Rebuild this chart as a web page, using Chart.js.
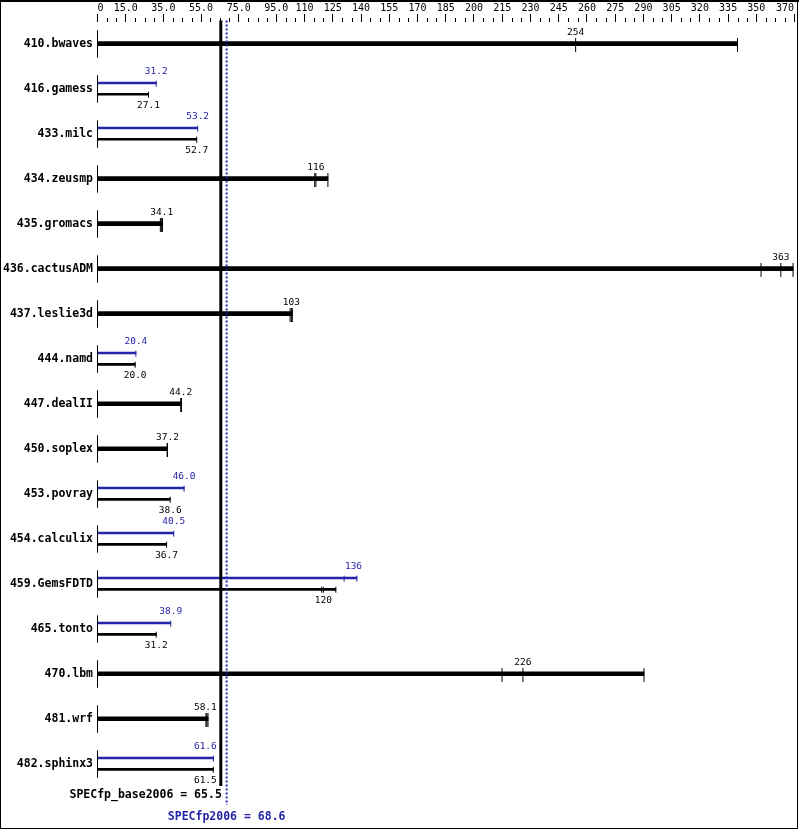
<!DOCTYPE html>
<html>
<head>
<meta charset="utf-8">
<script src="https://cdn.jsdelivr.net/npm/chart.js@4"></script>
<style>
  html, body { margin: 0; padding: 0; background: #fff; }
  canvas { display: block; }
</style>
</head>
<body>
<canvas id="specChart" width="799" height="831"></canvas>
<script>
// ---------- DATA ----------
const benchmarks = ["410.bwaves", "416.gamess", "433.milc", "434.zeusmp", "435.gromacs",
    "436.cactusADM", "437.leslie3d", "444.namd", "447.dealII", "450.soplex", "453.povray",
    "454.calculix", "459.GemsFDTD", "465.tonto", "470.lbm", "481.wrf", "482.sphinx3"];

// median ratios (null peak = peak same as base, drawn as one thick bar)
const baseScore = [254, 27.1, 52.7, 116, 34.1, 363, 103, 20.0, 44.2, 37.2, 38.6, 36.7, 120, 31.2, 226, 58.1, 61.5];
const peakScore = [null, 31.2, 53.2, null, null, null, null, 20.4, null, null, 46.0, 40.5, 136, 38.9, null, null, 61.6];

// individual run ratios (tick marks on the bars)
const baseRuns = [[254, 340], [27.1], [52.7], [115.4, 116, 122.4], [33.4, 34.1, 34.5],
    [352.5, 363, 369.5], [102.3, 103, 103.5], [20.0], [44.2, 44.6], [37.0, 37.2], [38.6], [36.7],
    [119.1, 120, 126.6], [31.2], [214.9, 226, 290.3], [57.6, 58.1, 58.7], [61.5]];
const peakRuns = [null, [31.2], [53.2], null, null, null, null, [20.4], null, null, [46.0], [40.5],
    [131, 137.8], [38.9], null, null, [61.6]];

const baseMean = 65.5;
const peakMean = 68.6;

const axisLabelValues = [0, 15, 35, 55, 75, 95, 110, 125, 140, 155, 170, 185, 200, 215, 230,
    245, 260, 275, 290, 305, 320, 335, 350, 370];
const axisLabelText = ["0", "15.0", "35.0", "55.0", "75.0", "95.0", "110", "125", "140", "155",
    "170", "185", "200", "215", "230", "245", "260", "275", "290", "305", "320", "335", "350", "370"];
const axisMax = 370;
const minorStep = 5;

// ---------- STYLE ----------
const BLUE = "#2424a8";
const MONO = '"DejaVu Sans Mono", monospace';
const ROW_PX = 45;          // pixel height of one benchmark row
const px = p => p / ROW_PX; // pixel offset -> row units

// ---------- BUILD DATASETS ----------
const thickBars = [], peakBars = [], baseBars = [];
const thickTicks = [], peakTicks = [], baseTicks = [], zeroTicks = [];

benchmarks.forEach((name, i) => {
    zeroTicks.push({ x: 0, y: i + px(0.3) });
    const baseMax = Math.max(...baseRuns[i]);
    if (peakScore[i] === null) {
        thickBars.push({ x: [0, baseMax], y: i });
        baseRuns[i].forEach(v => thickTicks.push({ x: v, y: i + px(1.3) }));
    } else {
        const peakMax = Math.max(...peakRuns[i]);
        peakBars.push({ x: [0, peakMax], y: i + px(-5.7) });
        baseBars.push({ x: [0, baseMax], y: i + px(5.6) });
        peakRuns[i].forEach(v => peakTicks.push({ x: v, y: i + px(-5.0) }));
        baseRuns[i].forEach(v => baseTicks.push({ x: v, y: i + px(6.0) }));
    }
});

const last = benchmarks.length - 1;
const yMin = -0.482;
const yMax = last + 0.484;

function tickSet(data, color, radius) {
    return {
        type: "scatter", data, showLine: false, order: 1,
        pointStyle: "line", rotation: 90, radius,
        borderColor: color, borderWidth: 1, clip: false
    };
}

function barSet(data, color, thickness) {
    return {
        type: "bar", data, indexAxis: "y", grouped: false, order: 2,
        backgroundColor: color, borderWidth: 0, barThickness: thickness
    };
}

// ---------- DECORATION PLUGIN ----------
function fmt(v) {
    return v >= 100 ? v.toFixed(0) : v.toFixed(1);
}

const specDecor = {
    id: "specDecor",
    afterDraw(chart) {
        const { ctx, scales: { x, y } } = chart;
        ctx.save();

        // minor ticks of the top axis
        ctx.strokeStyle = "#000";
        ctx.lineWidth = 1;
        x.ticks.forEach(t => {
            if (axisLabelValues.includes(t.value)) return;
            const tx = Math.round(x.getPixelForValue(t.value)) + 0.5;
            ctx.beginPath();
            ctx.moveTo(tx, x.bottom - 4);
            ctx.lineTo(tx, x.bottom);
            ctx.stroke();
        });

        // value labels
        const basePx = x.getPixelForValue(baseMean);
        ctx.font = "9.5px " + MONO;
        ctx.textAlign = "center";
        ctx.textBaseline = "middle";
        const label = (v, row, dy, color) => {
            const txt = fmt(v);
            const hw = ctx.measureText(txt).width / 2;
            let cx = x.getPixelForValue(v);
            if (cx < basePx && cx + hw > basePx - 4) cx = basePx - 4 - hw;
            ctx.fillStyle = color;
            ctx.fillText(txt, cx, y.getPixelForValue(row) + dy);
        };
        benchmarks.forEach((name, i) => {
            if (peakScore[i] === null) {
                label(baseScore[i], i, -11.5, "#000");
            } else {
                label(peakScore[i], i, -5.7 - 11, BLUE);
                label(baseScore[i], i, 5.6 + 11.5, "#000");
            }
        });

        // overall scores
        ctx.font = "bold 11.5px " + MONO;
        ctx.fillStyle = "#000";
        ctx.textAlign = "right";
        ctx.fillText("SPECfp_base2006 = " + baseMean.toFixed(1), basePx + 1, 795);
        ctx.fillStyle = BLUE;
        ctx.textAlign = "center";
        ctx.fillText("SPECfp2006 = " + peakMean.toFixed(1), x.getPixelForValue(peakMean), 817);

        // frame
        ctx.strokeStyle = "#000";
        ctx.strokeRect(0.5, 0.5, 797, 828);
        ctx.fillStyle = "#000";
        ctx.fillRect(0, 0, 799, 2);
        ctx.restore();
    }
};

// ---------- CHART ----------
const ctx = document.getElementById("specChart").getContext("2d");
new Chart(ctx, {
    type: "bar",
    data: {
        datasets: [
            {
                type: "line", order: 0, clip: false,
                data: [{ x: baseMean, y: yMin - px(1.5) }, { x: baseMean, y: last + px(22.3) }],
                borderColor: "#000", borderWidth: 3, pointRadius: 0
            },
            {
                type: "line", order: 0, clip: false,
                data: [{ x: peakMean, y: yMin - px(1.5) }, { x: peakMean, y: last + px(41.3) }],
                borderColor: BLUE, borderWidth: 2, borderDash: [2, 2], pointRadius: 0
            },
            tickSet(zeroTicks, "#000", 13.7),
            tickSet(thickTicks, "#000", 7),
            tickSet(peakTicks, BLUE, 3),
            tickSet(baseTicks, "#000", 3),
            barSet(thickBars, "#000", 4),
            barSet(peakBars, BLUE, 2),
            barSet(baseBars, "#000", 2)
        ]
    },
    options: {
        indexAxis: "y",
        responsive: false,
        animation: false,
        events: [],
        devicePixelRatio: 1,
        layout: { autoPadding: false, padding: { left: 0, top: 0, right: 5, bottom: 45.5 } },
        plugins: {
            legend: { display: false },
            tooltip: { enabled: false }
        },
        scales: {
            x: {
                type: "linear",
                position: "top",
                min: 0,
                max: axisMax,
                offset: false,
                afterFit: s => {
                    s.height = 22;
                    s.paddingLeft = 0;
                    s.paddingRight = 0;
                },
                afterBuildTicks: s => {
                    const ticks = [];
                    for (let v = 0; v <= axisMax; v += minorStep) ticks.push({ value: v });
                    s.ticks = ticks;
                },
                border: { display: false },
                grid: {
                    offset: false,
                    drawOnChartArea: false,
                    drawTicks: true,
                    tickLength: 8,
                    tickWidth: 1,
                    tickColor: c => axisLabelValues.includes(c.tick && c.tick.value) ? "#000" : "rgba(0,0,0,0)"
                },
                ticks: {
                    autoSkip: false,
                    maxRotation: 0,
                    align: "inner",
                    padding: 0,
                    color: "#000",
                    font: { family: MONO, size: 10 },
                    callback: v => {
                        const k = axisLabelValues.indexOf(v);
                        return k >= 0 ? axisLabelText[k] : "";
                    }
                }
            },
            y: {
                type: "linear",
                reverse: true,
                min: yMin,
                max: yMax,
                offset: false,
                afterFit: s => {
                    s.width = 97.5;
                    s.paddingTop = 0;
                    s.paddingBottom = 0;
                },
                afterBuildTicks: s => { s.ticks = benchmarks.map((n, i) => ({ value: i })); },
                border: { display: false },
                grid: { display: false, drawTicks: false, tickLength: 0, offset: false },
                ticks: {
                    autoSkip: false,
                    padding: 4.5,
                    color: "#000",
                    font: { family: MONO, size: 11.5, weight: "bold" },
                    callback: v => benchmarks[v]
                }
            }
        }
    },
    plugins: [specDecor]
});
</script>
</body>
</html>
